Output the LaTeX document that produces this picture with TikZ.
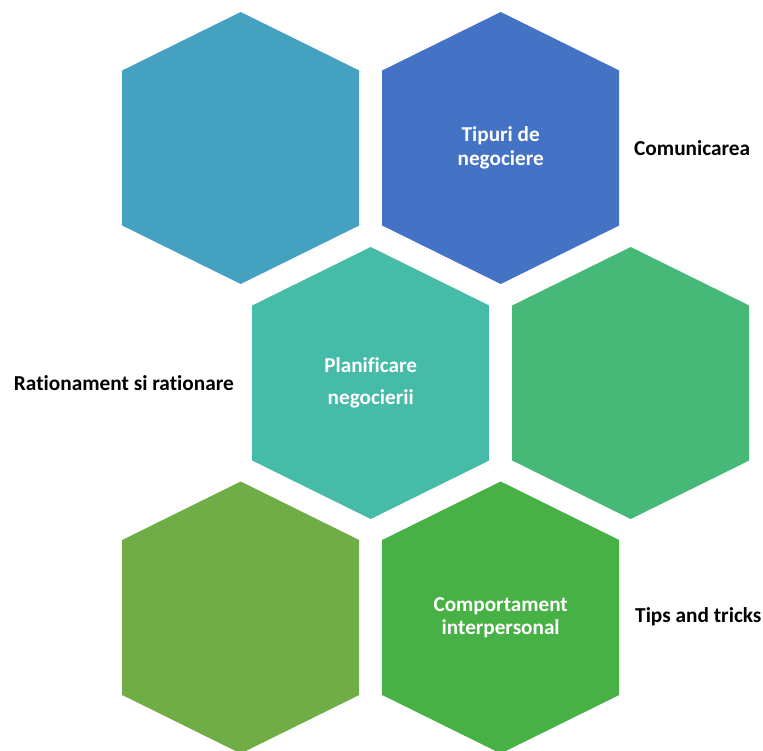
\documentclass[tikz,border=0pt]{standalone}
\usepackage{fontspec}
\setmainfont{Carlito}[Ligatures=NoCommon]
\definecolor{hexA}{RGB}{68,162,192}
\definecolor{hexB}{RGB}{68,114,196}
\definecolor{hexC}{RGB}{69,187,168}
\definecolor{hexD}{RGB}{70,184,120}
\definecolor{hexE}{RGB}{112,173,71}
\definecolor{hexF}{RGB}{72,177,70}
\begin{document}
\begin{tikzpicture}[x=1pt,y=-1pt,
  hexagon/.pic={\path[pic actions] (0,-136) -- (118.5,-77.5) -- (118.5,77.5) -- (0,136) -- (-118.5,77.5) -- (-118.5,-77.5) -- cycle;},
  hexlabel/.style={text=white,font=\bfseries\fontsize{21.2}{24.5}\selectfont,align=center,inner sep=0pt},
  sidelabel/.style={text=black,font=\bfseries\fontsize{21.3}{24.5}\selectfont,inner sep=0pt}]
\useasboundingbox (0,0) rectangle (763,750);
\begin{scope}
\clip (0,0) rectangle (763,750);
% honeycomb cells
\pic[fill=hexA] (cellA) at (240.7,148) {hexagon};
\pic[fill=hexB] (cellB) at (500.7,148) {hexagon};
\pic[fill=hexC] (cellC) at (370.7,383) {hexagon};
\pic[fill=hexD] (cellD) at (630.7,383) {hexagon};
\pic[fill=hexE] (cellE) at (240.7,617.5) {hexagon};
\pic[fill=hexF] (cellF) at (500.7,617.5) {hexagon};
\end{scope}
% texts inside the cells
\node[hexlabel] (tipuri) at (500.7,148) {Tipuri de\\negociere};
\node[hexlabel,font=\bfseries\fontsize{21.2}{32.5}\selectfont] (planificare) at (370.7,383) {Planificare\\negocierii};
\node[hexlabel,font=\bfseries\fontsize{21.2}{23.5}\selectfont] (comportament) at (500.7,617.5) {Comportament\\interpersonal};
% texts beside the cells
\node[sidelabel,anchor=west] (comunicarea) at (634,148) {Comunicarea};
\node[sidelabel,anchor=east] (rationament) at (234,383) {Rationament si rationare};
\node[sidelabel,anchor=west] (tips) at (635,617) {Tips and tricks};
\end{tikzpicture}
\end{document}
